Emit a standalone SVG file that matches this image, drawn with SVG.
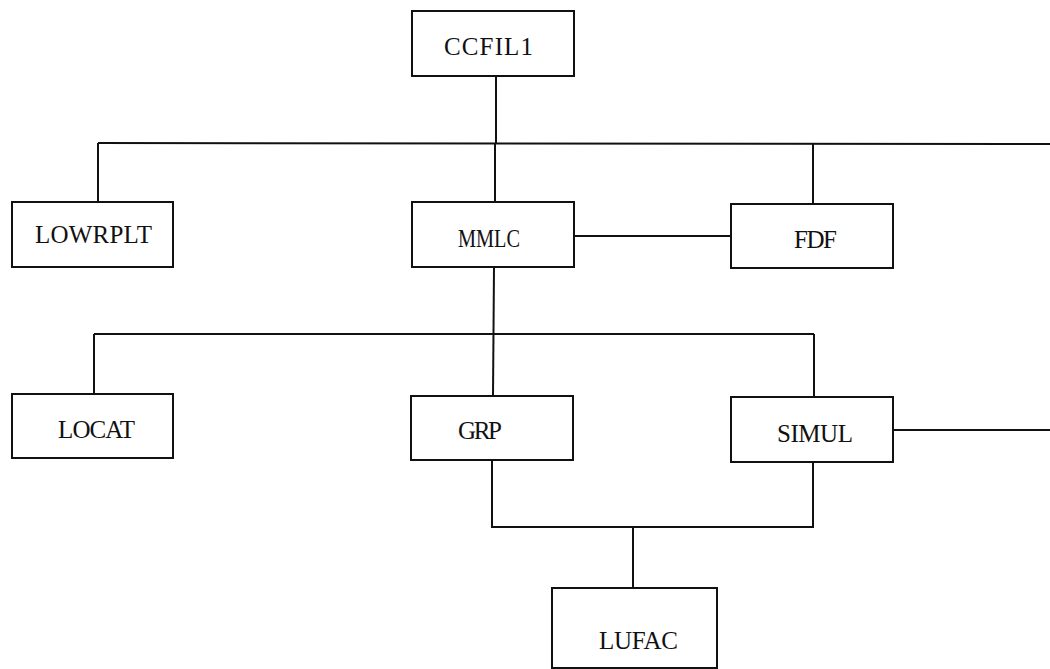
<svg xmlns="http://www.w3.org/2000/svg" width="1050" height="669" viewBox="0 0 1050 669">
<style>
.box{fill:#fff;stroke:#111;stroke-width:2}
.lbl{font-family:"Liberation Serif","Times New Roman",serif;font-size:25px;fill:#111}
#connectors line,#connectors path{stroke:#111;stroke-width:2;fill:none}
</style>
<rect width="1050" height="669" fill="#fff"/>
<g id="connectors">
<line x1="496" y1="76" x2="496" y2="144"/>
<line x1="98" y1="143" x2="1050" y2="144"/>
<line x1="98" y1="143" x2="98" y2="202"/>
<line x1="495" y1="143" x2="495" y2="202"/>
<line x1="813" y1="144" x2="813" y2="204"/>
<line x1="574" y1="236" x2="731" y2="236"/>
<line x1="494" y1="267" x2="493" y2="396"/>
<line x1="94" y1="334" x2="814" y2="334"/>
<line x1="94" y1="334" x2="94" y2="394"/>
<line x1="814" y1="334" x2="814" y2="397"/>
<line x1="893" y1="430" x2="1050" y2="430"/>
<path d="M492 460 V527 H813 V462"/>
<line x1="633" y1="527" x2="633" y2="588"/>
</g>
<g id="CCFIL1"><rect class="box" x="412" y="11" width="162" height="65"/><text class="lbl" x="444" y="55" textLength="89">CCFIL1</text></g>
<g id="LOWRPLT"><rect class="box" x="12" y="202" width="161" height="65"/><text class="lbl" x="35" y="243" textLength="117">LOWRPLT</text></g>
<g id="MMLC"><rect class="box" x="412" y="202" width="162" height="65"/><text class="lbl" x="458" y="247" textLength="62" lengthAdjust="spacingAndGlyphs">MMLC</text></g>
<g id="FDF"><rect class="box" x="731" y="204" width="162" height="64"/><text class="lbl" x="794" y="248" textLength="43">FDF</text></g>
<g id="LOCAT"><rect class="box" x="12" y="394" width="161" height="64"/><text class="lbl" x="58" y="438" textLength="77">LOCAT</text></g>
<g id="GRP"><rect class="box" x="411" y="396" width="162" height="64"/><text class="lbl" x="458" y="439" textLength="44">GRP</text></g>
<g id="SIMUL"><rect class="box" x="731" y="397" width="162" height="65"/><text class="lbl" x="777" y="442" textLength="76">SIMUL</text></g>
<g id="LUFAC"><rect class="box" x="552" y="588" width="165" height="80"/><text class="lbl" x="599" y="649" textLength="79">LUFAC</text></g>
</svg>
